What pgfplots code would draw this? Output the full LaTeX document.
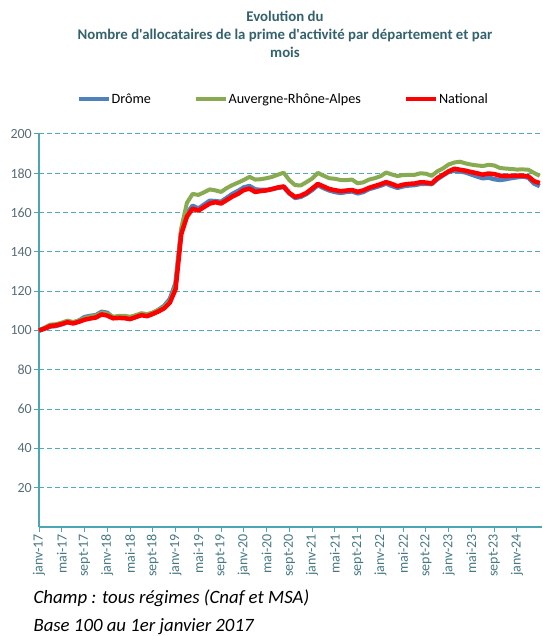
\documentclass[border=0pt]{standalone}
\usepackage{fontspec}
\setmainfont{Carlito}[Ligatures=TeXOff]
\usepackage{pgfplots}
\usepackage{pgfplotstable}
\pgfplotsset{compat=1.18}
\definecolor{titlecol}{RGB}{52,98,108}
\definecolor{axcol}{RGB}{75,165,178}
\definecolor{gridcol}{RGB}{80,170,185}
\definecolor{labcol}{RGB}{70,120,132}
\definecolor{ylabcol}{RGB}{90,110,118}
\definecolor{cdrome}{RGB}{79,129,189}
\definecolor{cara}{RGB}{136,170,80}
\definecolor{cnat}{RGB}{255,0,0}
\pgfplotstableread{
m d a n
0 100 100 100
1 101 101.5 101
2 102 103 102.3
3 102.3 103.2 102.6
4 103.2 104 103.3
5 104.4 105 104.2
6 104 104.3 103.6
7 105 105 104.4
8 106.8 106.3 105.5
9 107.4 107 106.1
10 107.8 107.6 106.6
11 109.5 109 108.2
12 109 108.6 107.6
13 106.6 107 106.2
14 106.6 107.4 106.4
15 106.5 107.5 106.3
16 106 107 105.8
17 107 107.8 106.8
18 108 108.8 107.8
19 107.5 108.3 107.3
20 108.8 109.2 108.4
21 110.5 110.5 109.7
22 112.5 112 111.3
23 116 115 114.2
24 124 123 121
25 151 152 149
26 159.5 165 158
27 163.5 169.5 162
28 162 169 161
29 164 170.3 162.8
30 166 171.8 164.6
31 165.8 171.3 165.3
32 165.5 170.5 164.6
33 167.5 172.5 166.4
34 169.5 174 168.2
35 171 175.3 169.6
36 172.8 176.6 171.5
37 173.5 178.2 172.2
38 171.8 176.8 170.5
39 171.5 177 171
40 171.5 177.5 171.3
41 172 178.2 172
42 172.6 179.3 172.8
43 173 180.3 173.3
44 169.8 176.5 170
45 167.5 174 168
46 168 173.8 168.6
47 169.5 175.5 170
48 171.5 177.3 172.2
49 174 180.2 174.6
50 172.5 178.8 173.3
51 171.3 177.5 172
52 170.5 177.2 171.4
53 170 176.6 170.9
54 170.5 176.5 171.2
55 170.8 176.8 171.5
56 169.8 174.9 170.6
57 170.5 175.4 171.3
58 172 176.8 172.6
59 172.8 177.5 173.5
60 173.7 178.5 174.4
61 174.8 180.4 175.5
62 173.6 179.4 174.6
63 172.6 178.6 173.4
64 173.4 179.1 174.2
65 173.8 179.2 174.6
66 174 179.2 174.8
67 174.6 180 175.4
68 174.7 179.8 175.3
69 174.5 178.7 174.8
70 177 181 177.5
71 179 182.5 179.2
72 180.8 184.5 181
73 181.3 185.5 182.3
74 181 185.9 181.8
75 180.4 185 181.3
76 179.4 184.4 180.6
77 178.4 184 180
78 177.5 183.7 179.3
79 177.8 184.3 179.9
80 177 184 179.6
81 176.6 182.7 178.8
82 177 182.4 178.6
83 177.6 182.2 178.7
84 178 181.9 178.8
85 178.4 182 178.8
86 177.8 181.8 178.4
87 174.8 180.2 176
88 173.5 178.7 175
}\data
\begin{document}
\begin{tikzpicture}[x=1pt,y=1pt]
\useasboundingbox (0,0) rectangle (542,636);
\node[align=center, text=titlecol, font=\bfseries\fontsize{14.8}{18}\selectfont] at (285,602)
  {Evolution du\\Nombre d'allocataires de la prime d'activité par département et par\\mois};
\begin{axis}[
  at={(39pt,109pt)}, anchor=south west,
  scale only axis, width=503pt, height=393pt,
  xmin=0, xmax=88.4, ymin=0, ymax=200,
  clip=false,
  axis lines*=left,
  axis line style={draw=axcol, line width=1.2pt},
  tick align=outside,
  major tick length=5pt,
  tick style={draw=axcol, line width=1pt},
  ytick={20,40,...,200},
  xtick={0,4,...,84},
  xticklabels={janv-17,mai-17,sept-17,janv-18,mai-18,sept-18,janv-19,mai-19,sept-19,janv-20,mai-20,sept-20,janv-21,mai-21,sept-21,janv-22,mai-22,sept-22,janv-23,mai-23,sept-23,janv-24},
  x tick label style={rotate=90, anchor=east, text=labcol, font=\fontsize{14}{16}\selectfont, inner sep=2pt},
  y tick label style={text=ylabcol, font=\fontsize{14}{16}\selectfont, inner sep=2pt},
  /pgf/number format/assume math mode=true,
  ymajorgrids,
  grid style={draw=gridcol, dash pattern=on 5pt off 3pt, line width=1pt},
  legend columns=3,
  legend style={at={(0.484,1.089)}, anchor=center, draw=none, fill=none,
    font=\fontsize{14.2}{16}\selectfont,
    nodes={inner sep=0.8pt},
    /tikz/every even column/.append style={column sep=42pt}},
  legend image code/.code={\draw[#1] (0pt,0pt) -- (30pt,0pt);},
]
\addplot[cdrome, line width=4.5pt, line join=round] table[x=m,y=d]{\data};
\addlegendentry{Drôme}
\addplot[cara, line width=4pt, line join=round] table[x=m,y=a]{\data};
\addlegendentry{Auvergne-Rhône-Alpes}
\addplot[cnat, line width=4.5pt, line join=round] table[x=m,y=n]{\data};
\addlegendentry{National}
\end{axis}
\node[anchor=base west, font=\itshape\fontsize{18.8}{22}\selectfont] at (30,32) {Champ : tous régimes (Cnaf et MSA)};
\node[anchor=base west, font=\itshape\fontsize{18.8}{22}\selectfont] at (30,4.5) {Base 100 au 1er janvier 2017};
\end{tikzpicture}
\end{document}
